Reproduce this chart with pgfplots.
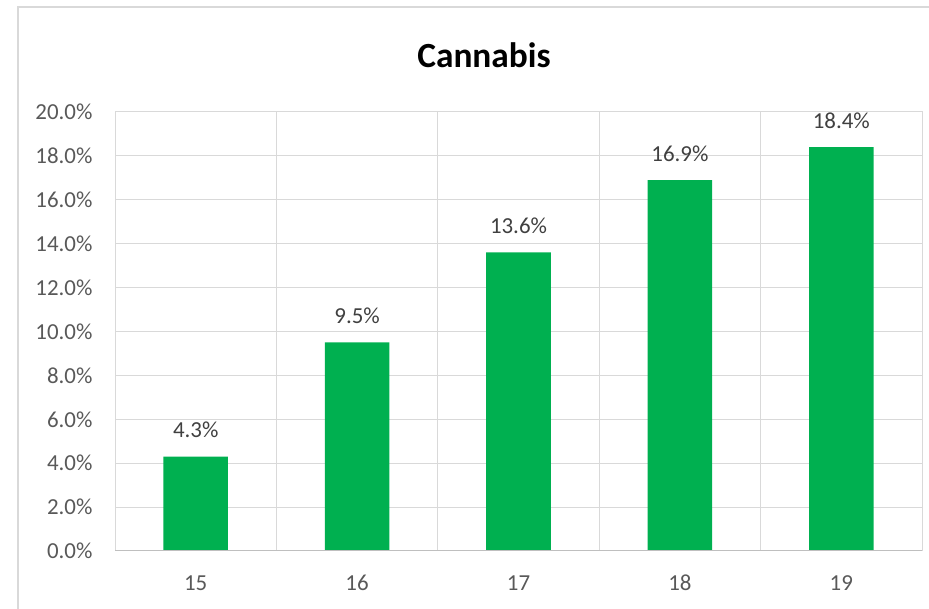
\documentclass[border=0pt]{standalone}
\usepackage{pgfplots}
\pgfplotsset{compat=1.18}
\usepackage{fontspec}
\setmainfont{Carlito}
\definecolor{exgreen}{HTML}{00B050}
\definecolor{gridgray}{HTML}{D9D9D9}
\definecolor{axgray}{HTML}{BFBFBF}
\definecolor{ticktext}{HTML}{595959}
\definecolor{labtext}{HTML}{404040}
\begin{document}
\begin{tikzpicture}[x=1bp,y=1bp]
\path[use as bounding box] (0,0) rectangle (929,609);
\draw[gridgray, line width=2bp] (18,-5) -- (18,602) -- (935,602);
\node[font=\fontsize{35.5}{42}\selectfont\bfseries, text=black] at (484,554) {Cannabis};
\begin{axis}[
  at={(115bp,58bp)}, anchor=south west,
  width=807bp, height=439bp, scale only axis,
  xmin=-0.5, xmax=4.5, ymin=0, ymax=20,
  xtick={0,1,2,3,4}, xticklabels={15,16,17,18,19},
  minor xtick={-0.5,0.5,1.5,2.5,3.5,4.5},
  xminorgrids=true,
  ytick={0,2,4,6,8,10,12,14,16,18,20},
  yticklabels={0.0\%,2.0\%,4.0\%,6.0\%,8.0\%,10.0\%,12.0\%,14.0\%,16.0\%,18.0\%,20.0\%},
  ymajorgrids=true,
  grid style={gridgray, line width=1bp},
  minor grid style={gridgray, line width=1bp},
  axis line style={gridgray, line width=1bp},
  major tick length=0pt, minor tick length=0pt,
  tick style={draw=none},
  /pgf/number format/assume math mode=true,
  ticklabel style={font=\fontsize{23}{27}\selectfont, text=ticktext},
  xticklabel style={yshift=-20bp, text height=16bp, text depth=0bp},
  yticklabel style={xshift=-19bp},
  ybar, bar width=0.4,
  nodes near coords={\pgfmathprintnumber[fixed,fixed zerofill,precision=1]{\pgfplotspointmeta}\%},
  nodes near coords style={font=\fontsize{23}{27}\selectfont, text=labtext, anchor=south, yshift=15bp},
  point meta=y,
]
\addplot[fill=exgreen, draw=none] coordinates {(0,4.3) (1,9.5) (2,13.6) (3,16.9) (4,18.4)};
\draw[axgray, line width=1bp] (axis cs:-0.5,0) -- (axis cs:4.5,0);
\end{axis}
\end{tikzpicture}
\end{document}
